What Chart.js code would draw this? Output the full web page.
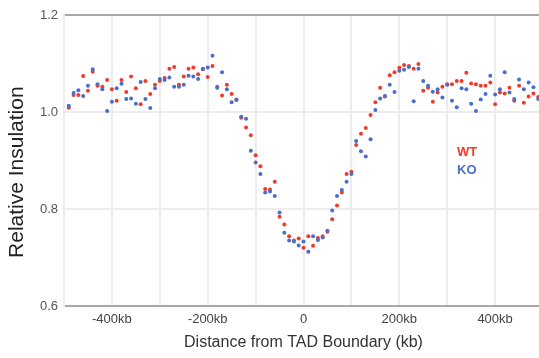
<!DOCTYPE html>
<html>
<head>
<meta charset="utf-8">
<script src="https://cdn.jsdelivr.net/npm/chart.js@4/dist/chart.umd.min.js"></script>
<style>
  html, body { margin: 0; padding: 0; background: #fff; overflow: hidden; }
  #wrap { position: relative; width: 539px; height: 358px; overflow: hidden; }
  #c { position: absolute; left: 0; top: 0; }
  #legend { position: absolute; left: 457px; top: 143px; font: bold 13px "Liberation Sans", Arial, sans-serif; line-height: 18px; }
</style>
</head>
<body>
<div id="wrap">
  <canvas id="c" width="545" height="358"></canvas>
  <div id="legend"><div style="color:#ef3b2c">WT</div><div style="color:#4a6fc9">KO</div></div>
</div>
<script>
// Distance from TAD boundary (kb)
const distances = [-490,-480,-470,-460,-450,-440,-430,-420,-410,-400,-390,-380,-370,-360,-350,-340,-330,-320,-310,-300,
  -290,-280,-270,-260,-250,-240,-230,-220,-210,-200,-190,-180,-170,-160,-150,-140,-130,-120,-110,-100,
  -90,-80,-70,-60,-50,-40,-30,-20,-10,0,10,20,30,40,50,60,70,80,90,100,
  110,120,130,140,150,160,170,180,190,200,210,220,230,240,250,260,270,280,290,300,
  310,320,330,340,350,360,370,380,390,400,410,420,430,440,450,460,470,480,490];

const wtValues = [1.009,1.035,1.035,1.074,1.044,1.083,1.054,1.052,1.066,1.047,1.023,1.066,1.041,1.073,1.049,1.016,1.064,1.037,1.056,1.064,
  1.070,1.089,1.093,1.056,1.073,1.089,1.092,1.078,1.088,1.072,1.095,1.052,1.034,1.056,1.037,1.026,0.988,0.968,0.952,0.911,
  0.888,0.841,0.840,0.856,0.784,0.768,0.744,0.735,0.739,0.720,0.744,0.724,0.740,0.744,0.753,0.779,0.807,0.834,0.872,0.877,
  0.932,0.955,0.967,0.994,1.020,1.050,1.032,1.076,1.082,1.091,1.097,1.095,1.089,1.099,1.044,1.050,1.021,1.040,1.052,1.057,
  1.057,1.064,1.064,1.081,1.059,1.057,1.054,1.054,1.061,1.016,1.040,1.038,1.050,1.023,1.054,1.019,1.032,1.038,1.031];

const koValues = [1.013,1.039,1.045,1.033,1.054,1.088,1.057,1.047,1.002,1.021,1.049,1.058,1.027,1.028,1.017,1.062,1.027,1.008,1.049,1.068,
  1.066,1.071,1.052,1.052,1.056,1.075,1.073,1.068,1.089,1.092,1.116,1.050,1.082,1.047,1.020,1.025,0.990,0.986,0.920,0.896,
  0.872,0.834,0.836,0.827,0.793,0.751,0.735,0.733,0.725,0.733,0.712,0.744,0.736,0.741,0.755,0.797,0.827,0.839,0.856,0.872,
  0.940,0.919,0.908,0.944,1.004,1.028,1.033,1.056,1.041,1.085,1.087,1.093,1.022,1.089,1.064,1.054,1.042,1.047,1.030,1.056,
  1.023,1.010,1.049,1.047,1.017,1.002,1.026,1.037,1.075,1.036,1.047,1.082,1.040,1.027,1.067,1.047,1.061,1.051,1.027];

const yTicks = [0.6, 0.8, 1.0, 1.2];
const xLabelled = [-400, -200, 0, 200, 400];

const toPoints = vals => distances.map((d, i) => ({ x: d, y: vals[i] }));

const FONT = '"Liberation Sans", Arial, Helvetica, sans-serif';

new Chart(document.getElementById('c'), {
  type: 'scatter',
  data: {
    datasets: [
      { label: 'KO', data: toPoints(koValues), backgroundColor: '#4a6fc9', pointRadius: 2, pointBorderWidth: 0, pointHoverRadius: 2 },
      { label: 'WT', data: toPoints(wtValues), backgroundColor: '#ef3b2c', pointRadius: 2, pointBorderWidth: 0, pointHoverRadius: 2 }
    ]
  },
  options: {
    responsive: false,
    animation: false,
    events: [],
    layout: { padding: { top: 15, right: 0, left: 0, bottom: 0 } },
    plugins: { legend: { display: false }, tooltip: { enabled: false } },
    scales: {
      x: {
        type: 'linear',
        min: -500, max: 500,
        afterFit: s => { s.height = 52; s.paddingLeft = 0; s.paddingRight = 0; },
        ticks: {
          stepSize: 100,
          autoSkip: false,
          maxRotation: 0,
          padding: 6,
          color: '#444',
          font: { family: FONT, size: 13 },
          callback: v => xLabelled.includes(v) ? (v === 0 ? '0' : v + 'kb') : ''
        },
        grid: {
          color: '#ececec',
          lineWidth: 2,
          drawTicks: false
        },
        border: { display: false },
        title: {
          display: true,
          text: 'Distance from TAD Boundary (kb)',
          color: '#333',
          font: { family: FONT, size: 16 },
          padding: { top: 3, bottom: 6 }
        }
      },
      y: {
        min: 0.6, max: 1.2,
        afterFit: s => { s.width = 64; },
        afterBuildTicks: s => { s.ticks = yTicks.map(v => ({ value: v })); },
        ticks: {
          padding: 6,
          color: '#555',
          font: { family: FONT, size: 13 },
          callback: v => Number(v).toFixed(1)
        },
        grid: {
          color: ctx => (ctx.tick && (Math.abs(ctx.tick.value - 1.2) < 1e-6 || Math.abs(ctx.tick.value - 0.6) < 1e-6)) ? '#a8a8a8' : '#ececec',
          lineWidth: 2,
          drawTicks: false
        },
        border: { display: true, color: '#ececec', width: 2 },
        title: {
          display: true,
          text: 'Relative Insulation    ',
          color: '#222',
          font: { family: FONT, size: 21 },
          padding: { top: 5, bottom: 4 }
        }
      }
    }
  }
});
</script>
</body>
</html>
